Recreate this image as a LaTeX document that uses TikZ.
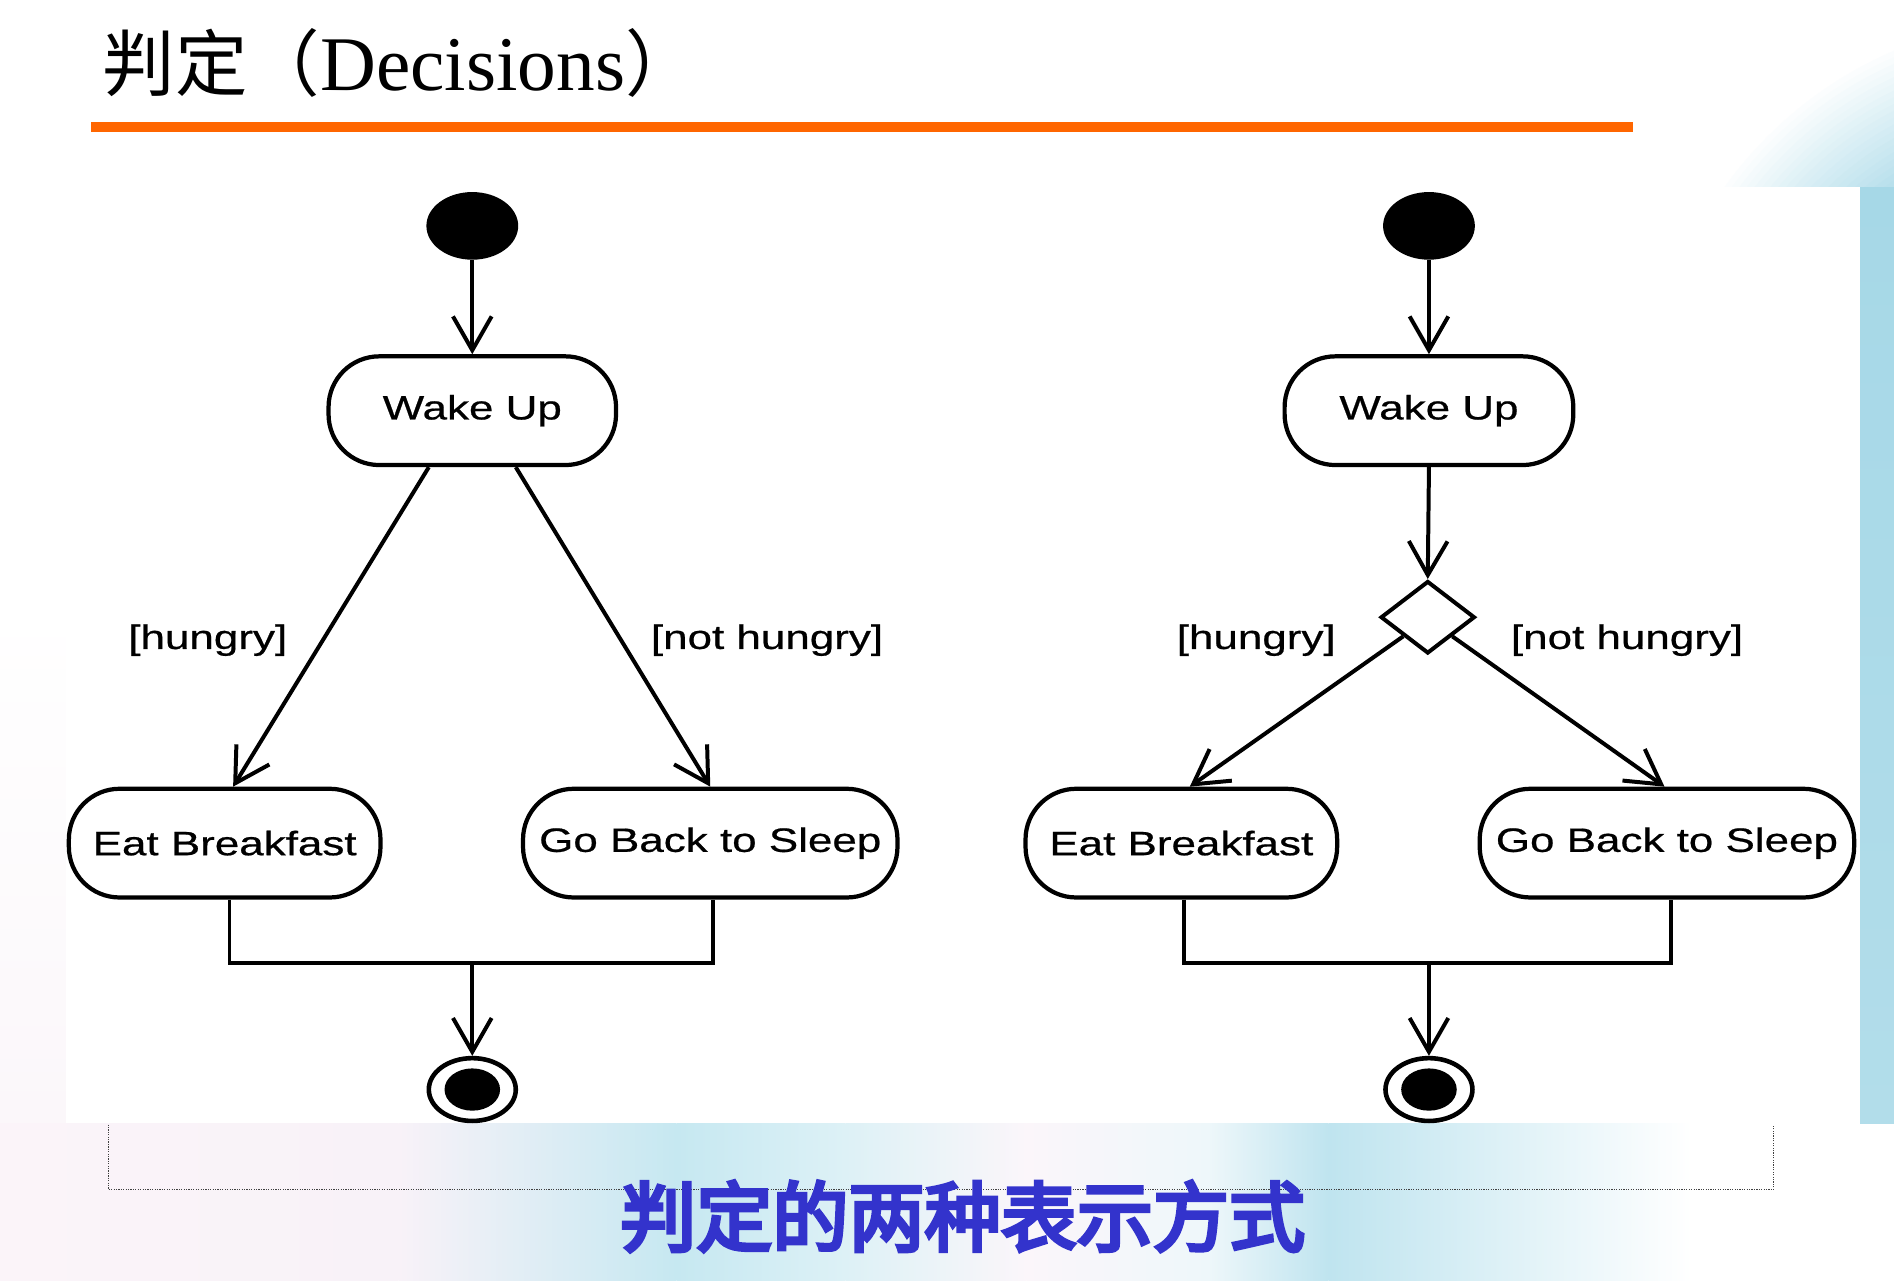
\documentclass[tikz,border=0pt]{standalone}
\usepackage{fontspec}
\setmainfont{Liberation Serif}
\newfontfamily\cjk{Noto Sans CJK SC}
\newfontfamily\cjkheavy{Noto Sans CJK SC}[FakeBold=5]
\newfontfamily\umlfont{Liberation Sans}[FakeStretch=1.3,FakeBold=0.6]
\usetikzlibrary{arrows.meta,shapes.geometric,calc}

\definecolor{orangebar}{HTML}{FF6600}
\definecolor{capblue}{HTML}{3333CC}
\definecolor{skyA}{HTML}{A6D8E7}
\definecolor{skyB}{HTML}{B2DDEA}
\definecolor{bandpink}{HTML}{FBF4F9}
\definecolor{bandpinkB}{HTML}{F8F2F8}
\definecolor{bandblue}{HTML}{C6E8F1}
\definecolor{bandblueB}{HTML}{DDF1F6}
\definecolor{bandwhite}{HTML}{FBF6FA}
\definecolor{bandwhiteB}{HTML}{EEF7FA}
\definecolor{bandblueC}{HTML}{BFE4EF}
\definecolor{leftpink}{HTML}{FBF7FA}

\begin{document}
\begin{tikzpicture}[x=1pt,y=-1pt,
  umlline/.style={line width=3.3pt, draw=black},
  actbox/.style={draw, line width=3.5pt, rounded corners=42pt, minimum height=90pt,
    inner sep=0pt, font=\umlfont\fontsize{28}{30}\selectfont},
  flow/.style={line width=3.3pt, -{Straight Barb[length=28pt,width=32pt]}},
  guard/.style={font=\umlfont\fontsize{28}{30}\selectfont, inner sep=0pt},
  initnode/.style={ellipse, fill=black, minimum width=76pt, minimum height=56pt, inner sep=0pt},
  finnode/.style={ellipse, draw, line width=3.8pt, minimum width=72pt, minimum height=52pt, inner sep=0pt},
  decnode/.style={diamond, draw, line width=3.3pt, minimum width=78pt, minimum height=60pt, inner sep=0pt},
]
\useasboundingbox (0,0) rectangle (1568,1060);
% ---------- background ----------
\fill[white] (0,0) rectangle (1568,1060);
\begin{scope}
  \clip (1200,0) rectangle (1568,930);
  \foreach \k in {0,...,24} {
    \pgfmathsetmacro\rr{340-5*\k}
    \pgfmathsetmacro\pp{4*\k}
    \fill[skyA!\pp!white] (1700,350) circle (\rr pt);
  }
\end{scope}
\shade[top color=skyA, bottom color=skyB] (1540,155) rectangle (1568,930);
\shade[top color=white, bottom color=leftpink] (0,500) rectangle (55,930);
\fill[white] (55,155) rectangle (1540,930);
% bottom band
\shade[left color=bandpink, right color=bandpinkB] (0,930) rectangle (330,1060);
\shade[left color=bandpinkB, right color=bandblue] (330,930) rectangle (560,1060);
\shade[left color=bandblue, right color=bandblueB] (560,930) rectangle (700,1060);
\shade[left color=bandblueB, right color=bandwhite] (700,930) rectangle (850,1060);
\shade[left color=bandwhite, right color=bandwhiteB] (850,930) rectangle (1000,1060);
\shade[left color=bandwhiteB, right color=bandblueC] (1000,930) rectangle (1100,1060);
\shade[left color=bandblueC, right color=white] (1100,930) rectangle (1400,1060);
\draw[black!75, line width=0.8pt, dash pattern=on 1pt off 1pt] (90,931) -- (90,985) -- (1468,985) -- (1468,931);

% ---------- title ----------
\node[anchor=base west, inner sep=0pt] (title) at (85,75)
  {{\cjk\fontsize{60}{60}\selectfont 判定（}{\fontsize{64}{64}\selectfont Decisions}{\cjk\fontsize{60}{60}\selectfont ）}};
\fill[orangebar] (75,101) rectangle (1352,109);

% ---------- left diagram ----------
\node[initnode] (s1) at (391,187) {};
\node[actbox, minimum width=238pt] (w1) at (391,340) {Wake Up};
\node[actbox, minimum width=258pt] (e1) at (186,698) {Eat Breakfast};
\node[actbox, minimum width=310pt] (g1) at (588,698) {Go Back to Sleep};
\node[finnode] (f1) at (391,902) {};
\fill (f1.center) ellipse (23pt and 17.5pt);
\coordinate (j1) at (391,797);
\node[guard] (h1) at (172,530) {[hungry]};
\node[guard] (n1) at (635,530) {[not hungry]};

\draw[flow] (s1.south) -- (w1.north);
\draw[flow] ([xshift=-36pt]w1.south) -- ([xshift=7pt]e1.north);
\draw[flow] ([xshift=36pt]w1.south) -- (g1.north);
\draw[umlline] ([xshift=4pt]e1.south) |- (j1) -| ([xshift=2pt]g1.south);
\draw[flow] (j1) -- (f1.north);

% ---------- right diagram ----------
\node[initnode] (s2) at (1183,187) {};
\node[actbox, minimum width=239pt] (w2) at (1183,340) {Wake Up};
\node[decnode] (d2) at (1182,511) {};
\node[actbox, minimum width=258pt] (e2) at (978,698) {Eat Breakfast};
\node[actbox, minimum width=310pt] (g2) at (1380,698) {Go Back to Sleep};
\node[finnode] (f2) at (1183,902) {};
\fill (f2.center) ellipse (23pt and 17.5pt);
\coordinate (j2) at (1183,797);
\node[guard] (h2) at (1040,530) {[hungry]};
\node[guard] (n2) at (1347,530) {[not hungry]};

\draw[flow] (s2.south) -- (w2.north);
\draw[flow] (w2.south) -- (d2.north);
\draw[flow] (d2.south west) -- ([xshift=7pt]e2.north);
\draw[flow] (d2.south east) -- ([xshift=-2pt]g2.north);
\draw[umlline] ([xshift=2pt]e2.south) |- (j2) -| ([xshift=3pt]g2.south);
\draw[flow] (j2) -- (f2.north);

% ---------- caption ----------
\node[inner sep=0pt, text=capblue, font=\cjkheavy\fontsize{63}{63}\selectfont] (cap) at (797,1007) {判定的两种表示方式};
\end{tikzpicture}
\end{document}
